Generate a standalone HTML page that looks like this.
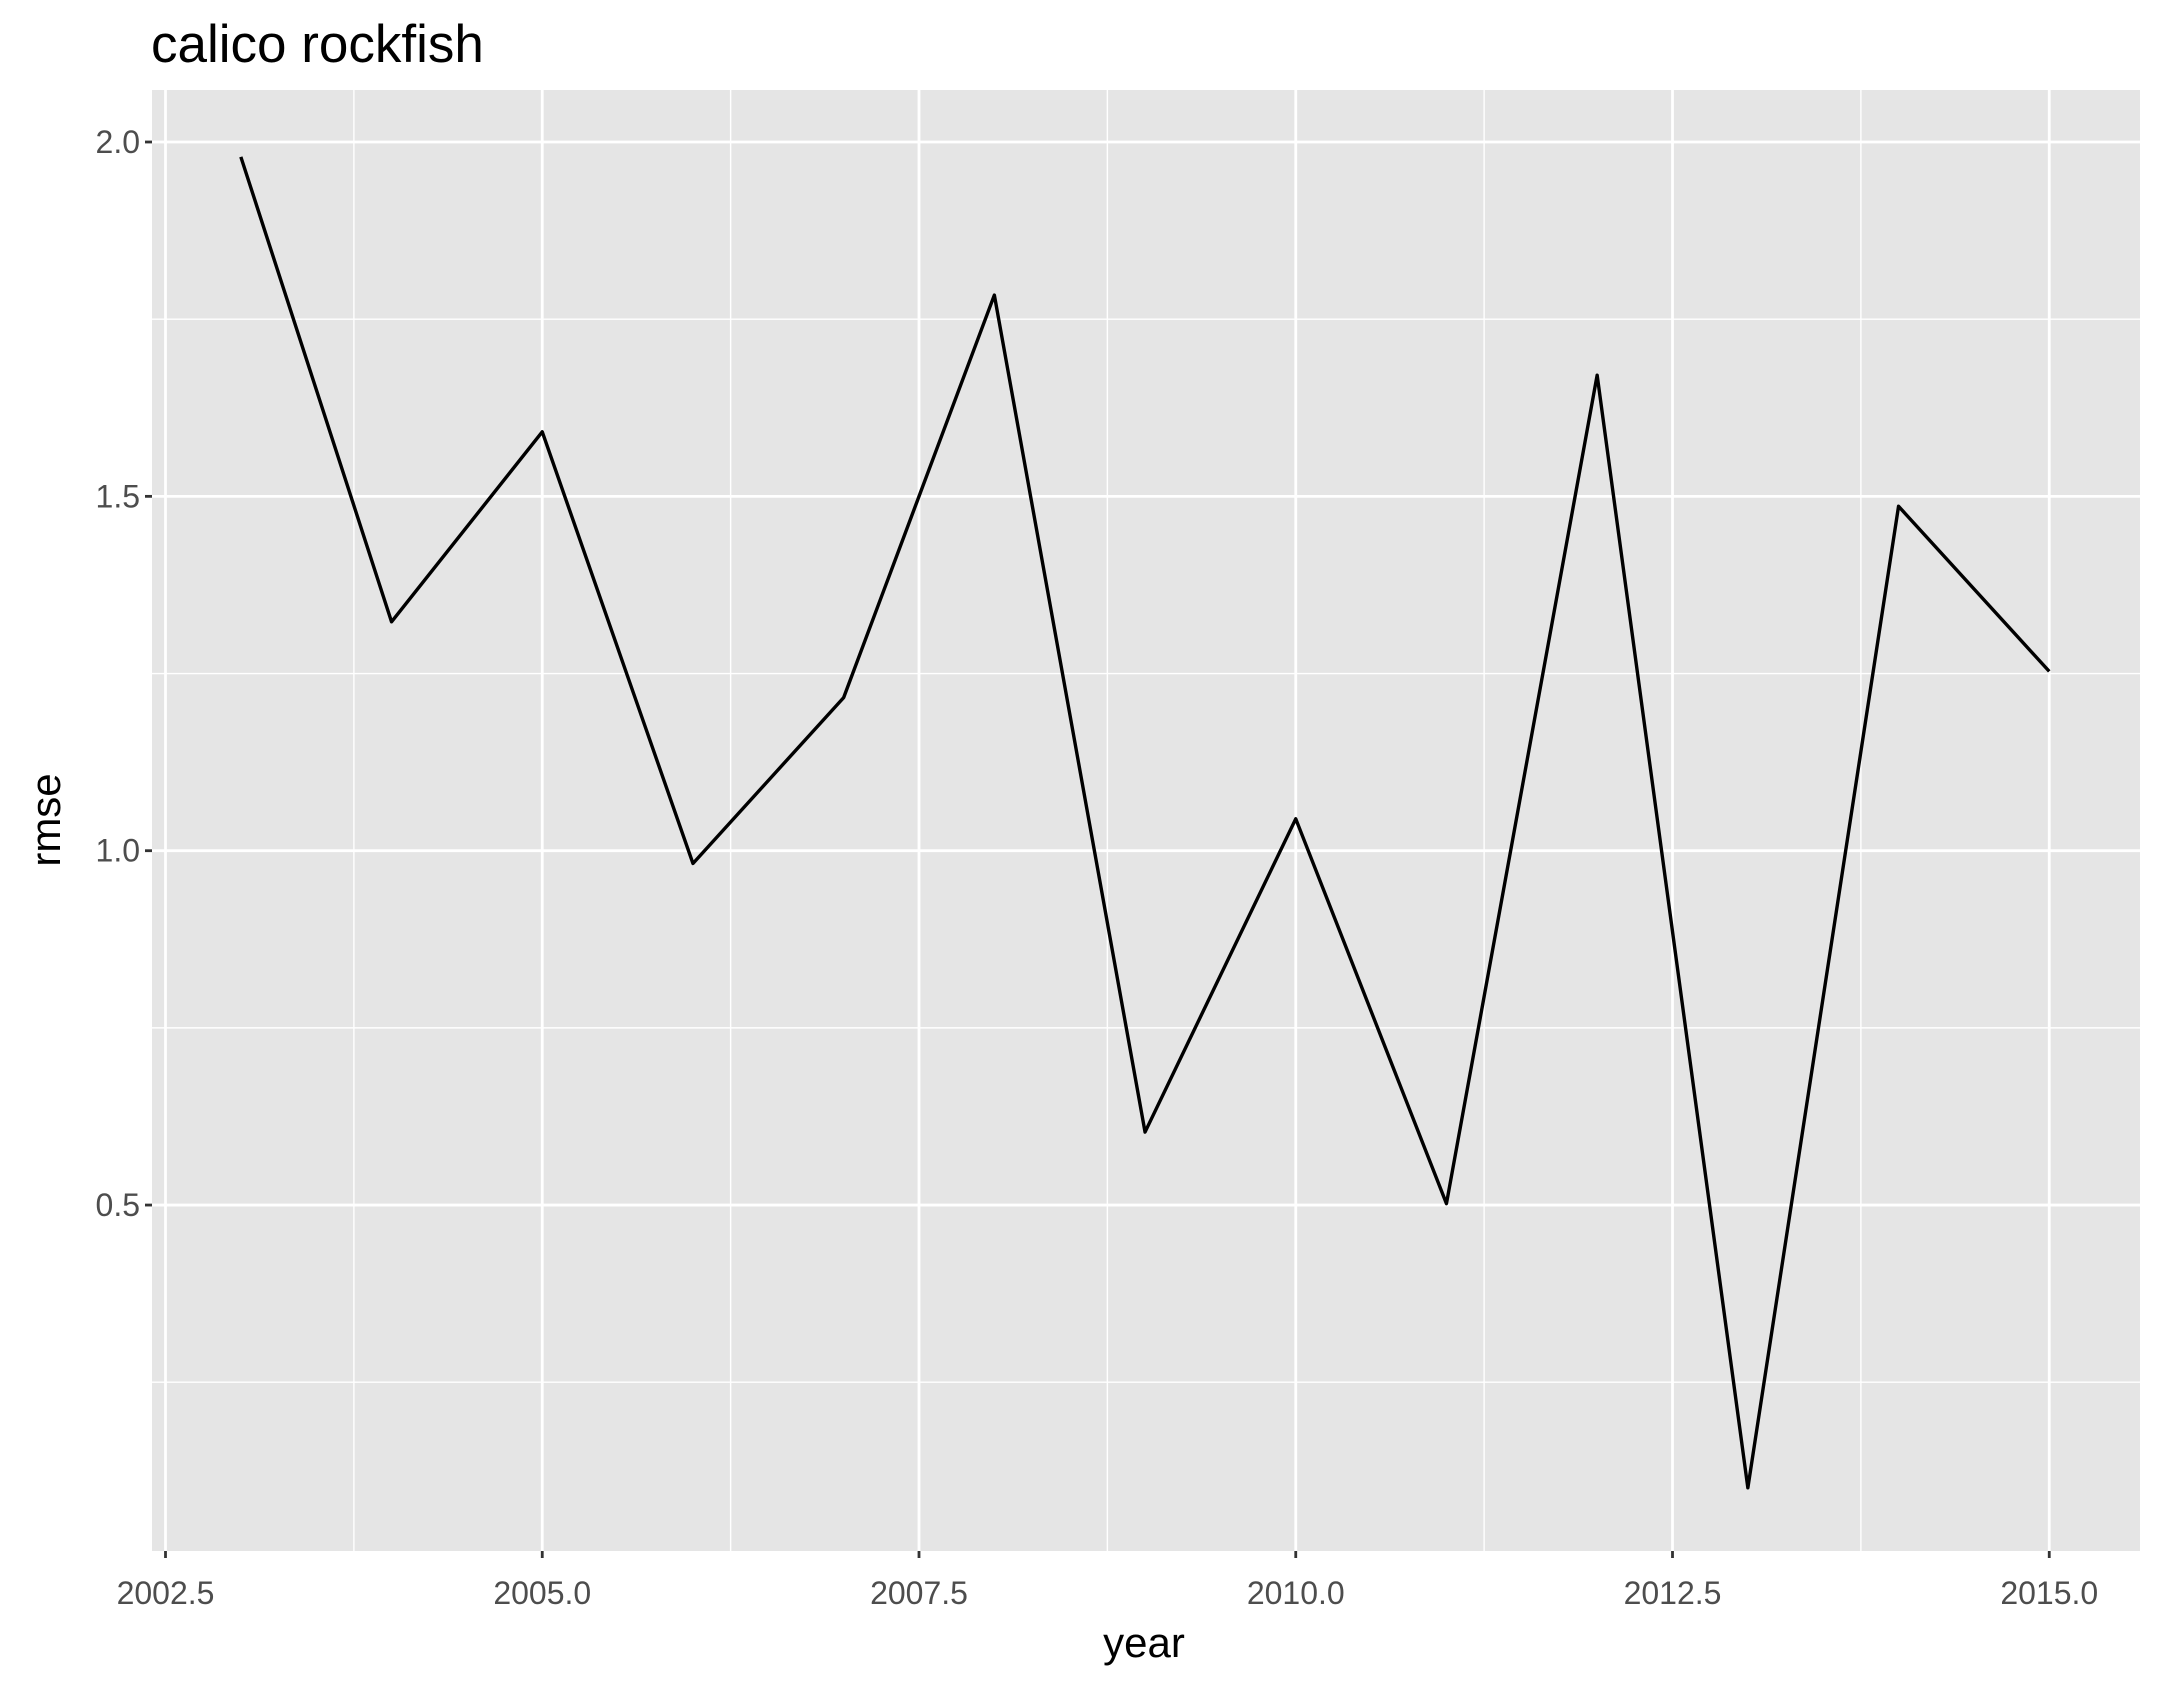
<!DOCTYPE html>
<html><head><meta charset="utf-8"><style>body{margin:0;background:#fff}svg{display:block}text{font-family:"Liberation Sans",Arial,sans-serif}</style></head>
<body>
<svg id="chart" width="2162" height="1691" viewBox="0 0 2162 1691">
<text x="151" y="62" font-size="53" fill="#000">calico rockfish</text>
<rect x="152" y="90" width="1988" height="1461" fill="#e5e5e5"/>
<g id="grid"></g><g id="axes"></g>
<path id="line" fill="none" stroke="#000" stroke-width="3.4" stroke-linejoin="round"/>
<text x="1144" y="1657" font-size="42" text-anchor="middle" fill="#000">year</text>
<text transform="translate(60,820) rotate(-90)" font-size="42" text-anchor="middle" fill="#000">rmse</text>
</svg>
<script>
const years=[2003,2004,2005,2006,2007,2008,2009,2010,2011,2012,2013,2014,2015];
const rmse=[1.979,1.323,1.591,0.982,1.216,1.784,0.603,1.045,0.502,1.671,0.101,1.486,1.253];
const xTicks=[2002.5,2005,2007.5,2010,2012.5,2015];
const xTickLabels=["2002.5","2005.0","2007.5","2010.0","2012.5","2015.0"];
const yTicks=[0.5,1.0,1.5,2.0];
const yTickLabels=["0.5","1.0","1.5","2.0"];
const ns="http://www.w3.org/2000/svg";
const L=152,R=2140,T=90,B=1551;
function sx(v){return 165.5+(v-2002.5)*150.7;}
function sy(v){return 142+(2.0-v)*708.7;}
const grid=document.getElementById('grid'),axes=document.getElementById('axes');
function ln(p,x1,y1,x2,y2,c,w,name){const e=document.createElementNS(ns,'line');e.setAttribute('x1',x1);e.setAttribute('y1',y1);e.setAttribute('x2',x2);e.setAttribute('y2',y2);e.setAttribute('stroke',c);e.setAttribute('stroke-width',w);


p.appendChild(e);}
function tx(x,y,s,anchor,name){const e=document.createElementNS(ns,'text');e.setAttribute('x',x);e.setAttribute('y',y);e.setAttribute('font-size','32');e.setAttribute('fill','#4d4d4d');e.setAttribute('text-anchor',anchor);e.textContent=s;


axes.appendChild(e);}
for(let i=0;i<xTicks.length-1;i++){const m=(xTicks[i]+xTicks[i+1])/2;ln(grid,sx(m),T,sx(m),B,'#fff',1.4,'x-minor-gridline');}
{const m=xTicks[xTicks.length-1]+1.25;if(sx(m)<R)ln(grid,sx(m),T,sx(m),B,'#fff',1.4,'x-minor-gridline');}
for(let i=0;i<yTicks.length-1;i++){const m=(yTicks[i]+yTicks[i+1])/2;ln(grid,L,sy(m),R,sy(m),'#fff',1.4,'y-minor-gridline');}
{const m=yTicks[0]-0.25;if(sy(m)<B)ln(grid,L,sy(m),R,sy(m),'#fff',1.4,'y-minor-gridline');}
xTicks.forEach((v,i)=>{ln(grid,sx(v),T,sx(v),B,'#fff',2.8,'x-major-gridline');ln(axes,sx(v),B,sx(v),B+7,'#333',2.8,'x-tick');tx(sx(v),B+53,xTickLabels[i],'middle','x-tick-label');});
yTicks.forEach((v,i)=>{ln(grid,L,sy(v),R,sy(v),'#fff',2.8,'y-major-gridline');ln(axes,L-7,sy(v),L,sy(v),'#333',2.8,'y-tick');tx(L-12,sy(v)+11,yTickLabels[i],'end','y-tick-label');});
document.getElementById('line').setAttribute('d',years.map((y,i)=>(i?'L':'M')+sx(y)+','+sy(rmse[i])).join(' '));
</script>
</body></html>
